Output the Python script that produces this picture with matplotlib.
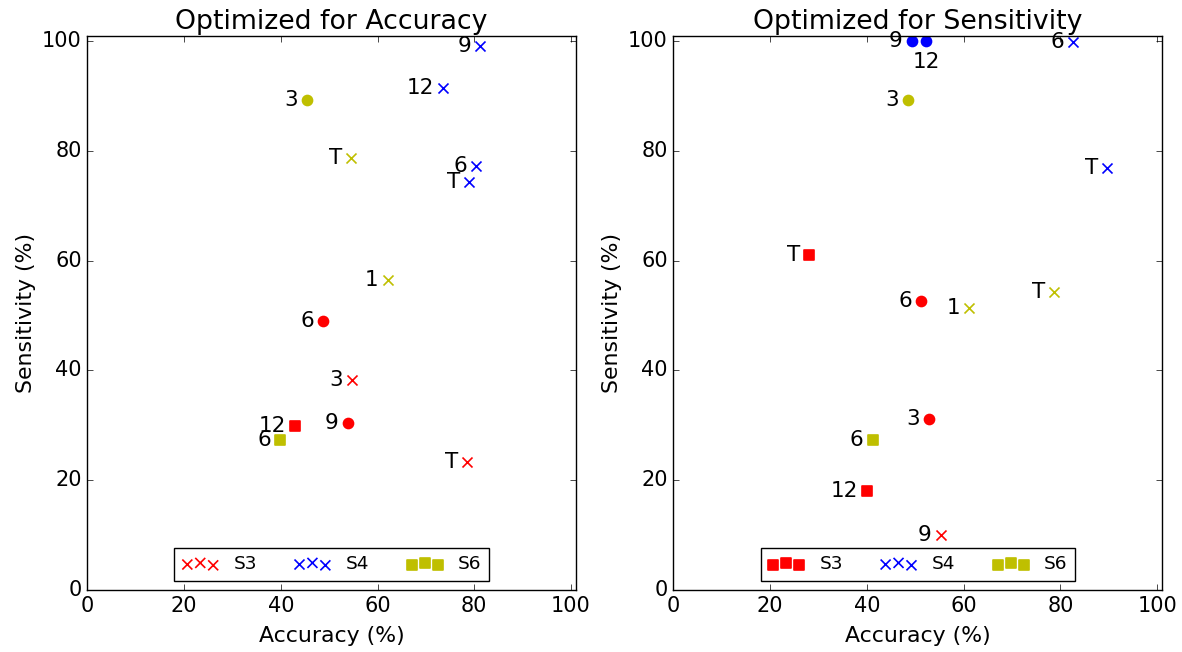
import matplotlib
matplotlib.use('Agg')
from matplotlib import pyplot as plt

# Points per series: (label, marker, accuracy, sensitivity)
acc_s3 = [('T', 'x', 78.5, 23.3), ('3', 'x', 54.8, 38.2), ('6', 'o', 48.7, 49.1),
          ('9', 'o', 53.8, 30.5), ('12', 's', 43.0, 29.8)]
acc_s4 = [('T', 'x', 79.0, 74.3), ('6', 'x', 80.4, 77.3), ('9', 'x', 81.2, 99.2),
          ('12', 'x', 73.6, 91.5)]
acc_s6 = [('6', 's', 39.9, 27.3), ('1', 'x', 62.1, 56.5), ('T', 'x', 54.5, 78.8),
          ('3', 'o', 45.4, 89.3)]

sen_s3 = [('T', 's', 28.1, 61.0), ('12', 's', 40.1, 18.1), ('6', 'o', 51.2, 52.6),
          ('3', 'o', 52.9, 31.2), ('9', 'x', 55.3, 10.0)]
sen_s4 = [('T', 'x', 89.7, 76.9), ('6', 'x', 82.7, 99.8), ('9', 'o', 49.3, 100.0),
          ('12', 'o', 52.3, 100.0)]
sen_s6 = [('6', 's', 41.2, 27.3), ('1', 'x', 61.2, 51.4), ('T', 'x', 78.7, 54.3),
          ('3', 'o', 48.4, 89.2)]

series_names = ['S3', 'S4', 'S6']
series_colors = ['r', 'b', 'y']
ticks = [0, 20, 40, 60, 80, 100]

plt.style.use('classic')
plt.rcParams['font.size'] = 15


def draw(ax, title, groups, below=()):
    for name, color, pts in zip(series_names, series_colors, groups):
        for i, (lab, mk, x, y) in enumerate(pts):
            ax.scatter(x, y, s=52, c=color, marker=mk, edgecolors='face',
                       linewidths=1.2, label=name if i == 0 else None)
            if (name, lab) in below:
                ax.annotate(lab, (x, y), xytext=(0, -15), textcoords='offset points',
                            ha='center', va='center', fontsize=15.5)
            else:
                ax.annotate(lab, (x, y), xytext=(-6.5, 0), textcoords='offset points',
                            ha='right', va='center', fontsize=15.5)
    ax.set_xlim(0, 101)
    ax.set_ylim(0, 101)
    ax.set_xticks(ticks)
    ax.set_yticks(ticks)
    ax.set_title(title, fontsize=19.3)
    ax.set_xlabel('Accuracy (%)', fontsize=15.8, labelpad=7.5)
    ax.set_ylabel('Sensitivity (%)', fontsize=15.8, labelpad=4.5)
    ax.legend(loc='lower center', ncol=3, scatterpoints=3, fontsize=13.3)


fig, (ax1, ax2) = plt.subplots(1, 2, figsize=(11.82, 6.52), dpi=100)
fig.patch.set_facecolor('white')
plt.subplots_adjust(left=0.0739, right=0.983, bottom=0.0951, top=0.9452, wspace=0.2)

draw(ax1, 'Optimized for Accuracy', [acc_s3, acc_s4, acc_s6])
draw(ax2, 'Optimized for Sensitivity', [sen_s3, sen_s4, sen_s6], below=[('S4', '12')])

plt.savefig('out.png', dpi=100, facecolor='white')
